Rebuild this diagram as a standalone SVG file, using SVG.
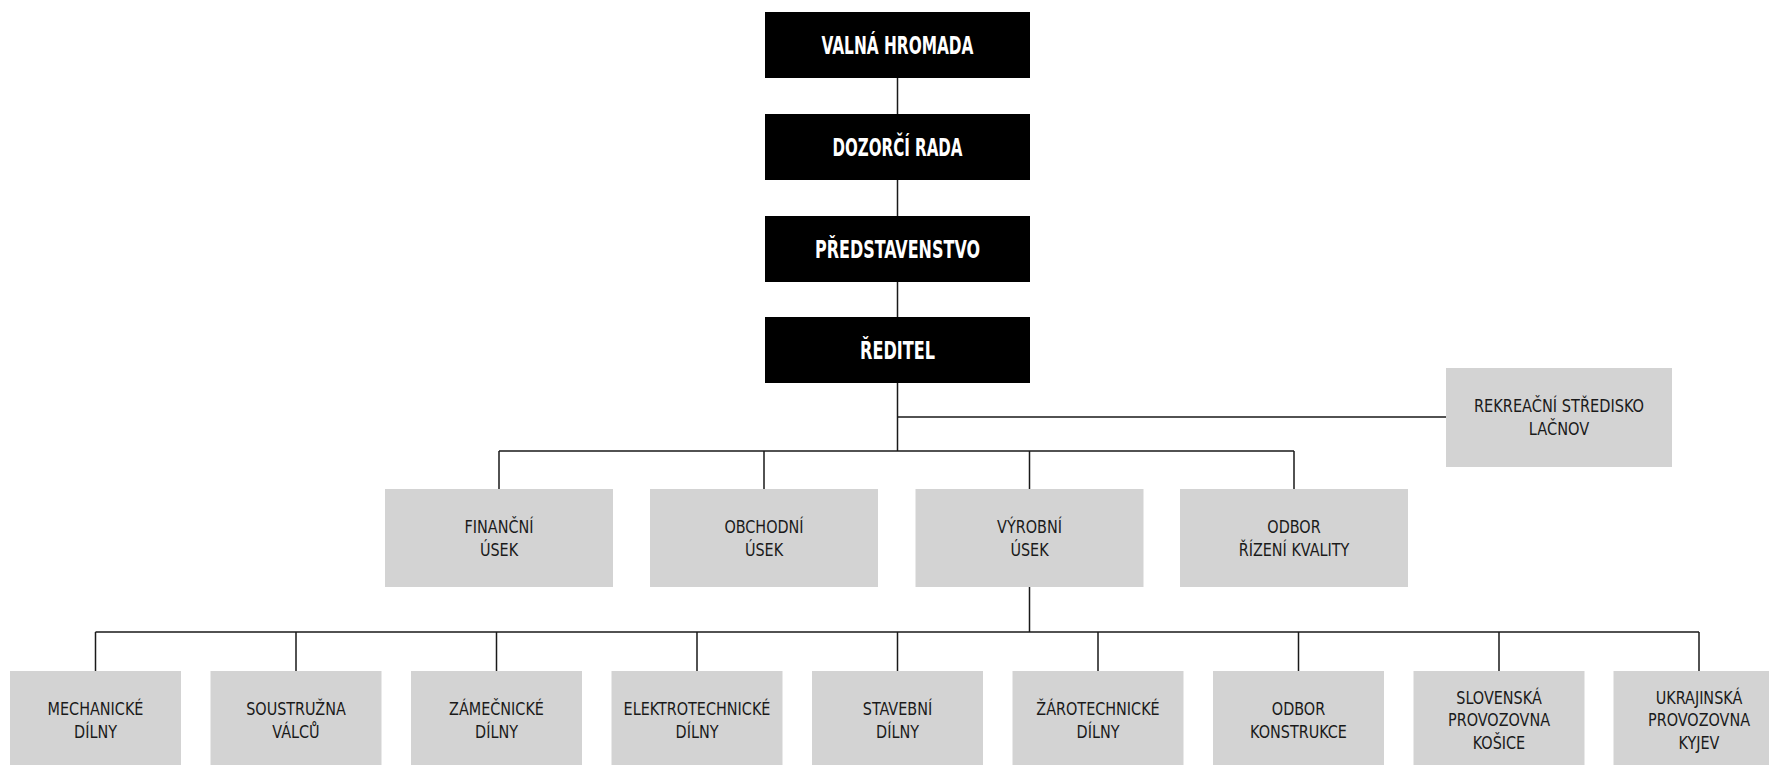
<svg xmlns="http://www.w3.org/2000/svg" width="1769" height="765" viewBox="0 0 1769 765">
<style>
.top rect{fill:#000}
.top text{fill:#fff;font-family:"Liberation Sans Narrow","DejaVu Sans Condensed","Roboto Condensed","Liberation Sans",sans-serif;font-weight:bold;font-size:25px;text-anchor:middle}
.unit rect{fill:#d3d3d3}
.unit text{fill:#1a1a1a;font-family:"Liberation Sans Narrow","DejaVu Sans Condensed","Roboto Condensed","Liberation Sans",sans-serif;font-size:18px;text-anchor:middle}
#connectors path{fill:none;stroke:#1a1a1a;stroke-width:1.5}
</style>
<rect width="1769" height="765" fill="#fff"/>
<g id="connectors">
<path d="M897.5 78V114M897.5 180V216M897.5 282V317"/>
<path d="M897.5 383V451M897.5 417H1446"/>
<path d="M499 451H1294M499 451V489M764 451V489M1029.5 451V489M1294 451V489"/>
<path d="M1029.5 587V632M95.5 632H1699M95.5 632V671M296 632V671M496.5 632V671M697 632V671M897.5 632V671M1098 632V671M1298.5 632V671M1499 632V671M1699 632V671"/>
</g>
<g id="valna-hromada" class="top"><rect x="765" y="12" width="265" height="66"/><text x="897.5" y="54" textLength="152" lengthAdjust="spacingAndGlyphs">VALNÁ HROMADA</text></g>
<g id="dozorci-rada" class="top"><rect x="765" y="114" width="265" height="66"/><text x="897.5" y="156" textLength="130" lengthAdjust="spacingAndGlyphs">DOZORČÍ RADA</text></g>
<g id="predstavenstvo" class="top"><rect x="765" y="216" width="265" height="66"/><text x="897.5" y="258" textLength="165" lengthAdjust="spacingAndGlyphs">PŘEDSTAVENSTVO</text></g>
<g id="reditel" class="top"><rect x="765" y="317" width="265" height="66"/><text x="897.5" y="359" textLength="75" lengthAdjust="spacingAndGlyphs">ŘEDITEL</text></g>
<g id="rekreacni-stredisko" class="unit"><rect x="1446" y="368" width="226" height="99"/><g transform="translate(1559 0) scale(0.9 1)"><text x="0" y="412.5">REKREAČNÍ STŘEDISKO</text><text x="0" y="435.5">LAČNOV</text></g></g>
<g id="financni-usek" class="unit"><rect x="385" y="489" width="228" height="98"/><g transform="translate(499 0) scale(0.89 1)"><text x="0" y="533">FINANČNÍ</text><text x="0" y="556">ÚSEK</text></g></g>
<g id="obchodni-usek" class="unit"><rect x="650" y="489" width="228" height="98"/><g transform="translate(764 0) scale(0.89 1)"><text x="0" y="533">OBCHODNÍ</text><text x="0" y="556">ÚSEK</text></g></g>
<g id="vyrobni-usek" class="unit"><rect x="915.5" y="489" width="228" height="98"/><g transform="translate(1029.5 0) scale(0.89 1)"><text x="0" y="533">VÝROBNÍ</text><text x="0" y="556">ÚSEK</text></g></g>
<g id="odbor-rizeni-kvality" class="unit"><rect x="1180" y="489" width="228" height="98"/><g transform="translate(1294 0) scale(0.89 1)"><text x="0" y="533">ODBOR</text><text x="0" y="556">ŘÍZENÍ KVALITY</text></g></g>
<g id="mechanicke-dilny" class="unit"><rect x="10" y="671" width="171" height="98"/><g transform="translate(95.5 0) scale(0.89 1)"><text x="0" y="715">MECHANICKÉ</text><text x="0" y="738">DÍLNY</text></g></g>
<g id="soustruzna-valcu" class="unit"><rect x="210.5" y="671" width="171" height="98"/><g transform="translate(296 0) scale(0.89 1)"><text x="0" y="715">SOUSTRUŽNA</text><text x="0" y="738">VÁLCŮ</text></g></g>
<g id="zamecnicke-dilny" class="unit"><rect x="411" y="671" width="171" height="98"/><g transform="translate(496.5 0) scale(0.89 1)"><text x="0" y="715">ZÁMEČNICKÉ</text><text x="0" y="738">DÍLNY</text></g></g>
<g id="elektrotechnicke-dilny" class="unit"><rect x="611.5" y="671" width="171" height="98"/><g transform="translate(697 0) scale(0.89 1)"><text x="0" y="715">ELEKTROTECHNICKÉ</text><text x="0" y="738">DÍLNY</text></g></g>
<g id="stavebni-dilny" class="unit"><rect x="812" y="671" width="171" height="98"/><g transform="translate(897.5 0) scale(0.89 1)"><text x="0" y="715">STAVEBNÍ</text><text x="0" y="738">DÍLNY</text></g></g>
<g id="zarotechnicke-dilny" class="unit"><rect x="1012.5" y="671" width="171" height="98"/><g transform="translate(1098 0) scale(0.89 1)"><text x="0" y="715">ŽÁROTECHNICKÉ</text><text x="0" y="738">DÍLNY</text></g></g>
<g id="odbor-konstrukce" class="unit"><rect x="1213" y="671" width="171" height="98"/><g transform="translate(1298.5 0) scale(0.89 1)"><text x="0" y="715">ODBOR</text><text x="0" y="738">KONSTRUKCE</text></g></g>
<g id="slovenska-provozovna" class="unit"><rect x="1413.5" y="671" width="171" height="98"/><g transform="translate(1499 0) scale(0.89 1)"><text x="0" y="704">SLOVENSKÁ</text><text x="0" y="726.5">PROVOZOVNA</text><text x="0" y="749">KOŠICE</text></g></g>
<g id="ukrajinska-provozovna" class="unit"><rect x="1613.5" y="671" width="171" height="98"/><g transform="translate(1699 0) scale(0.89 1)"><text x="0" y="704">UKRAJINSKÁ</text><text x="0" y="726.5">PROVOZOVNA</text><text x="0" y="749">KYJEV</text></g></g>
</svg>
